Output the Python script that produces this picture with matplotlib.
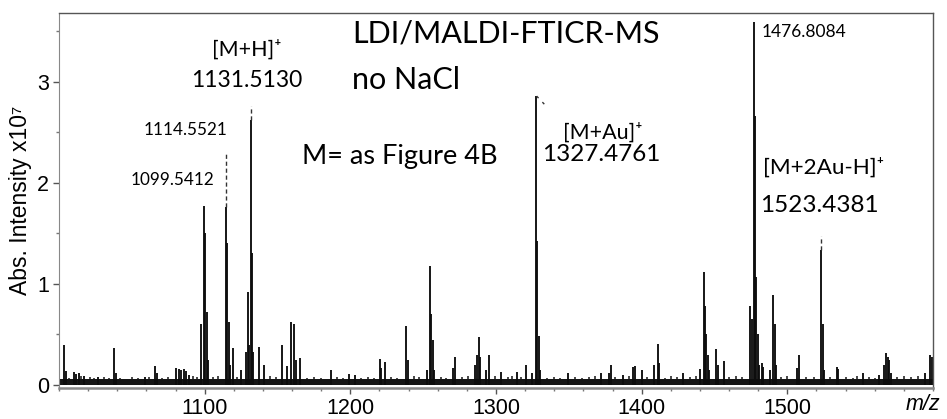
import matplotlib
matplotlib.use('Agg')
import matplotlib.pyplot as plt
from matplotlib.ticker import MultipleLocator

plt.rcParams['font.family'] = ['Liberation Sans', 'DejaVu Sans']

# peak list (m/z, intensity x10^7)
mz = [1003.5, 1004.5, 1010.5, 1012.0, 1013.5, 1017.5, 1027.1, 1037.8, 1038.8,
      1059.1, 1065.9, 1067.0, 1080.6, 1082.3, 1084.0, 1085.7, 1087.5, 1089.0,
      1097.7, 1099.54, 1100.54, 1101.54, 1102.5,
      1114.55, 1115.55, 1116.55, 1117.5, 1119.4, 1124.7,
      1128.2, 1129.5, 1130.5, 1131.51, 1132.5, 1133.5, 1137.2, 1140.7,
      1153.3, 1156.7, 1159.0, 1161.2, 1162.4, 1165.4, 1186.4, 1199.2, 1202.9,
      1220.2, 1221.2, 1223.7, 1238.3, 1239.3, 1252.3,
      1254.5, 1255.5, 1256.5, 1257.5, 1270.5, 1272.2,
      1285.8, 1287.2, 1288.3, 1289.3, 1293.2, 1295.5, 1303.5, 1314.5, 1320.4, 1325.0,
      1327.48, 1328.48, 1329.48, 1330.5, 1349.4, 1372.3, 1377.3, 1378.9, 1387.2,
      1394.4, 1395.5, 1400.2, 1408.8, 1411.2, 1412.2, 1428.3, 1440.2,
      1442.5, 1443.5, 1444.5, 1445.5, 1446.5, 1451.2, 1452.2, 1456.2,
      1474.5, 1475.6, 1476.81, 1477.8, 1478.8, 1479.8, 1480.8, 1482.5, 1483.5,
      1488.2, 1490.5, 1491.5, 1492.5, 1506.5, 1508.1,
      1523.44, 1524.44, 1525.4, 1534.0, 1535.0, 1552.2, 1563.2,
      1566.5, 1567.8, 1568.8, 1569.8, 1571.0, 1594.5, 1598.0, 1599.0]
intensity = [0.40, 0.14, 0.13, 0.11, 0.12, 0.09, 0.08, 0.37, 0.12,
             0.08, 0.19, 0.12, 0.17, 0.16, 0.15, 0.16, 0.14, 0.10,
             0.60, 1.77, 1.50, 0.72, 0.25,
             1.76, 1.41, 0.62, 0.20, 0.37, 0.15,
             0.33, 0.92, 0.40, 2.62, 1.31, 0.33, 0.38, 0.20,
             0.40, 0.19, 0.62, 0.60, 0.25, 0.27, 0.15, 0.11, 0.10,
             0.26, 0.17, 0.23, 0.58, 0.25, 0.15,
             1.18, 0.70, 0.45, 0.15, 0.17, 0.28,
             0.20, 0.30, 0.47, 0.28, 0.15, 0.30, 0.13, 0.13, 0.20, 0.12,
             2.86, 1.43, 0.48, 0.15, 0.12, 0.12, 0.12, 0.20, 0.10,
             0.18, 0.19, 0.15, 0.20, 0.41, 0.22, 0.12, 0.16,
             1.12, 0.78, 0.50, 0.30, 0.15, 0.36, 0.20, 0.24,
             0.78, 0.65, 3.59, 2.66, 1.07, 0.50, 0.20, 0.22, 0.18,
             0.15, 0.89, 0.60, 0.20, 0.17, 0.30,
             1.34, 0.60, 0.15, 0.18, 0.16, 0.12, 0.10,
             0.20, 0.32, 0.28, 0.25, 0.12, 0.12, 0.30, 0.28]

# small noise spikes along the baseline
noise_mz = [1007, 1015, 1021, 1024, 1031, 1034, 1042, 1046, 1050, 1054, 1062, 1071,
            1075, 1092, 1095, 1106, 1109, 1122, 1145, 1149, 1170, 1175, 1180, 1191,
            1195, 1207, 1212, 1216, 1228, 1232, 1244, 1247, 1262, 1266, 1277, 1281,
            1299, 1308, 1311, 1317, 1335, 1340, 1344, 1354, 1359, 1364, 1368, 1382,
            1391, 1404, 1416, 1420, 1424, 1433, 1437, 1460, 1465, 1469, 1496, 1500,
            1513, 1518, 1529, 1540, 1545, 1548, 1556, 1560, 1575, 1580, 1585, 1590]
noise_int = [0.07, 0.09, 0.08, 0.07, 0.08, 0.07, 0.07, 0.06, 0.08, 0.07, 0.08, 0.07,
             0.08, 0.09, 0.08, 0.08, 0.09, 0.08, 0.09, 0.08, 0.07, 0.08, 0.07, 0.08,
             0.07, 0.07, 0.08, 0.07, 0.08, 0.07, 0.09, 0.08, 0.08, 0.07, 0.08, 0.09,
             0.09, 0.08, 0.09, 0.08, 0.07, 0.08, 0.07, 0.08, 0.07, 0.08, 0.09, 0.08,
             0.09, 0.08, 0.07, 0.09, 0.08, 0.08, 0.09, 0.08, 0.09, 0.08, 0.08, 0.09,
             0.08, 0.08, 0.08, 0.08, 0.07, 0.09, 0.08, 0.07, 0.08, 0.09, 0.08, 0.09]
noise_floor = 0.06

# dashed markers above labelled peaks (m/z, from, to)
dash_mz = [1114.55, 1131.51, 1523.44]
dash_lo = [1.76, 2.62, 1.34]
dash_hi = [2.30, 2.76, 1.47]

fig = plt.figure(figsize=(9.47, 4.19), dpi=100)
ax = fig.add_axes([0.0623, 0.074, 0.9229, 0.895])

ax.axhspan(0, noise_floor, color='#151515', lw=0)
ax.vlines(noise_mz, 0, noise_int, color='#151515', lw=1.1)
ax.vlines(mz, 0, intensity, color='#0d0d0d', lw=1.35)
ax.vlines(dash_mz, dash_lo, dash_hi, color='#333333', lw=1.0, linestyles=(0, (3, 2)))
ax.plot([1327.9, 1334.5], [2.86, 2.76], color='#333333', lw=1.0, ls=(0, (2, 4)))

ax.set_xlim(1000, 1600)
ax.set_ylim(-0.03, 3.683)
ax.xaxis.set_major_locator(MultipleLocator(100))
ax.xaxis.set_minor_locator(MultipleLocator(20))
ax.yaxis.set_major_locator(MultipleLocator(1))
ax.yaxis.set_minor_locator(MultipleLocator(0.5))
ax.set_xticks([1100, 1200, 1300, 1400, 1500])
ax.tick_params(axis='both', which='major', labelsize=15.5, length=4, width=1,
               color='#555555', direction='out', pad=3)
ax.tick_params(axis='both', which='minor', length=2.5, width=1, color='#777777')
for s in ['top', 'right']:
    ax.spines[s].set_color('#555555')
    ax.spines[s].set_linewidth(1.0)
ax.spines['left'].set_color('#888888')
ax.spines['bottom'].set_color('#888888')
ax.spines['bottom'].set_linewidth(1.8)

ax.set_ylabel('Abs. Intensity x10\u2077', fontsize=16.5, labelpad=4)
fig.text(0.975, 0.035, 'm/z', fontsize=15.5, style='italic', ha='center', va='center')

cal = ['Lato', 'DejaVu Sans']
ink = '#000000'
ax.text(1201.4, 3.48, 'LDI/MALDI-FTICR-MS', family=cal, fontsize=22, ha='left', va='center', color=ink)
ax.text(1201.4, 3.02, 'no NaCl', family=cal, fontsize=22, ha='left', va='center', color=ink)
ax.text(1166.9, 2.26, 'M= as Figure 4B', family=cal, fontsize=19.5, ha='left', va='center', color=ink)
ax.text(1128.7, 3.32, '[M+H]\u207a', family=cal, fontsize=15.5, ha='center', va='center', color=ink)
ax.text(1129.0, 3.01, '1131.5130', family=cal, fontsize=16.5, ha='center', va='center', color=ink)
ax.text(1087.0, 2.52, '1114.5521', family=cal, fontsize=12.3, ha='center', va='center', color=ink)
ax.text(1078.0, 2.03, '1099.5412', family=cal, fontsize=12.3, ha='center', va='center', color=ink)
ax.text(1373.0, 2.50, '[M+Au]\u207a', family=cal, fontsize=15.5, ha='center', va='center', color=ink)
ax.text(1372.0, 2.28, '1327.4761', family=cal, fontsize=17.5, ha='center', va='center', color=ink)
ax.text(1511.6, 3.49, '1476.8084', family=cal, fontsize=12.5, ha='center', va='center', color=ink)
ax.text(1524.6, 2.15, '[M+2Au-H]\u207a', family=cal, fontsize=16.2, ha='center', va='center', color=ink)
ax.text(1521.8, 1.78, '1523.4381', family=cal, fontsize=17.5, ha='center', va='center', color=ink)

plt.savefig('out.png', dpi=100)
